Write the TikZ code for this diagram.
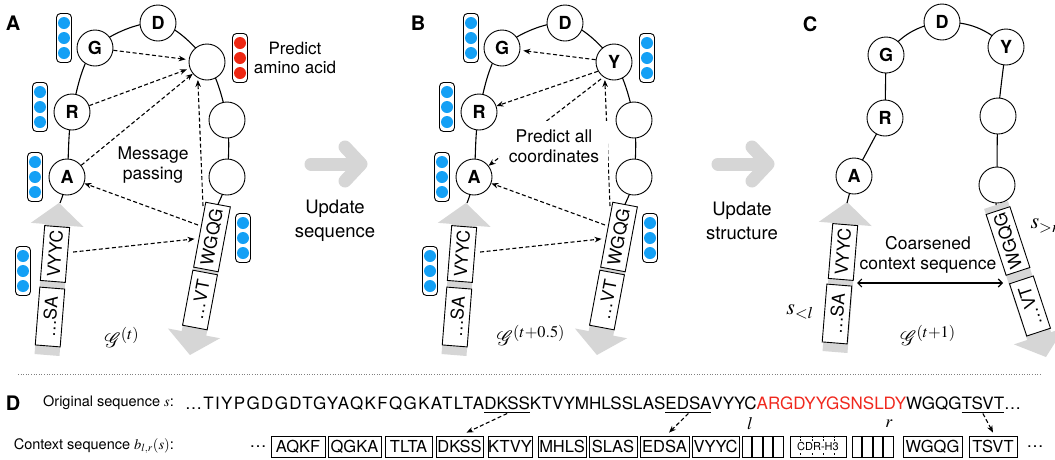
\documentclass[tikz,border=0pt]{standalone}
\usepackage{mathptmx}
\usepackage{mathrsfs}
\usepackage{fontspec}
\setmainfont{TeX Gyre Heros}
\usetikzlibrary{arrows.meta}
\newcommand\fsz[2]{\fontsize{#1}{#2}\selectfont}
\definecolor{vblue}{RGB}{20,160,245}
\definecolor{vred}{RGB}{238,40,20}
\definecolor{barg}{RGB}{214,214,214}
\definecolor{seqred}{RGB}{240,40,30}
\tikzset{
  res/.style={circle, draw, line width=0.9pt, fill=white, minimum size=36pt, inner sep=0pt, font=\fsz{18}{20}\bfseries},
  sbox/.style={draw, fill=white, line width=0.9pt, minimum height=25pt, inner sep=1pt, font=\fsz{17.5}{20}},
  chainline/.style={line width=1.1pt},
  msg/.style={line width=1.1pt, dash pattern=on 4pt off 2.5pt, -{Stealth[length=7pt,width=5.5pt]}},
  lbl/.style={font=\fsz{17.5}{20}, align=center},
  updtxt/.style={font=\fsz{18.5}{24}, align=center},
  plabel/.style={font=\fsz{20}{24}\bfseries},
  mlbl/.style={font=\fsz{22}{26}},
  upd/.style={draw=barg, line width=13pt, line cap=round, line join=round},
  cbox/.style={draw, line width=0.8pt, minimum height=21pt, inner sep=0pt, font=\fsz{16.5}{20}},
  smallbox/.style={draw, line width=0.8pt, minimum height=21pt, minimum width=9.6pt, inner sep=0pt},
  seqt/.style={inner sep=0pt, outer sep=0pt, font=\fsz{17}{20}},
  seqwide/.style={inner sep=0pt, outer sep=0pt, font=\fsz{17}{20}\addfontfeature{LetterSpace=8}},
  dlbl/.style={font=\fsz{14.5}{18}, inner sep=0pt},
  dbl/.style={line width=1.1pt, {Straight Barb[length=4pt,width=8pt]}-{Straight Barb[length=4pt,width=8pt]}},
  pics/vec/.style={code={
    \draw[line width=0.9pt, fill=white, rounded corners=4pt] (-7.5,-24.5) rectangle (7.5,24.5);
    \foreach \k in {-15,0,15} {\fill[#1] (0,\k) circle (6pt);}
  }}
}
\newcommand\grayarrow[4]{\fill[barg, shift={(#1,#2)}, rotate=#3] (0,-12.5) -- (#4-22,-12.5) -- (#4-22,-26.5) -- (#4,0) -- (#4-22,26.5) -- (#4-22,12.5) -- (0,12.5) -- cycle;}
% #1 prefix, #2 x offset, #3 top-right letter, #4 top-right vector colour
\newcommand\panelAB[4]{%
\begin{scope}[xshift=#2pt]
  \grayarrow{47}{355}{85.5}{152.5}
  \grayarrow{218}{205}{-100.6}{152.6}
  \draw[chainline] plot[smooth, tension=0.55] coordinates {(60,203) (67,177) (72,112) (95,48) (158,23) (207,62) (227,120) (227,177) (218,204)};
  \node[sbox, rotate=85.5, minimum width=55pt] (#1VY) at (55,254) {VYYC};
  \node[sbox, rotate=85.5, minimum width=58pt] (#1SA) at (50,317) {…SA};
  \node[sbox, rotate=79.4, minimum width=66pt] (#1WG) at (212,237) {WGQG};
  \node[sbox, rotate=79.4, minimum width=56pt] (#1VT) at (200,300) {…VT};
  \node[res] (#1A) at (67,177) {A};
  \node[res] (#1R) at (72,112) {R};
  \node[res] (#1G) at (95,48) {G};
  \node[res] (#1D) at (158,23) {D};
  \node[res] (#1P) at (207,62) {#3};
  \node[res] (#1c) at (227,120) {};
  \node[res] (#1e) at (227,177) {};
  \pic at (64,38) {vec=vblue};
  \pic at (40,107) {vec=vblue};
  \pic at (35,177) {vec=vblue};
  \pic at (240,58) {vec=#4};
  \pic at (23,271) {vec=vblue};
  \pic at (243,238) {vec=vblue};
  \coordinate (#1wT) at (203,206);
  \coordinate (#1wA) at (198,225);
  \draw[msg, shorten >=2pt] (#1wT) -- (#1P.240);
  \draw[msg] (#1wA) -- (#1A);
  \draw[msg, shorten <=5pt, shorten >=4pt] (#1VY) -- (#1WG);
\end{scope}}
\begin{document}
\begin{tikzpicture}[x=1pt, y=-1pt]
\useasboundingbox (0,0) rectangle (1055,459);
\fill[white] (0,0) rectangle (1055,459);
\clip (0,0) rectangle (1055,459);

% ---------- Panel A ----------
\panelAB{a}{0}{}{vred}
\draw[msg, shorten >=3pt] (aG) -- (aP);
\draw[msg, shorten >=3pt] (aR) -- (aP);
\draw[msg] (aA) -- (aP);
\node[lbl] (amsg) at (153,165) {Message\\passing};
\node[lbl, font=\fsz{17}{19}] (apred) at (295,58) {Predict\\amino acid};
\node[plabel] (labA) at (13,23) {A};
\node[mlbl] (agl) at (122,337) {$\mathscr{G}^{(t)}$};

% ---------- arrow A -> B ----------
\draw[upd] (311,164) -- (360,164);
\draw[upd] (345,147) -- (361,164) -- (345,181);
\node[updtxt] (u1) at (335,221) {Update\\sequence};

% ---------- Panel B ----------
\panelAB{b}{407}{Y}{vblue}
\draw[msg, shorten >=3pt] (bP) -- (bG);
\draw[msg] (bP.210) -- (bR);
\draw[msg, shorten <=3pt] (bP.235) -- (bA);
\node[lbl, fill=white, inner xsep=9pt, inner ysep=8pt] (bpred) at (554,146) {Predict all\\coordinates};
\node[plabel] (labB) at (418,23) {B};
\node[mlbl] (bgl) at (531,335) {$\mathscr{G}^{(t+0.5)}$};

% ---------- arrow B -> C ----------
\draw[upd] (718,164) -- (767,164);
\draw[upd] (752,147) -- (768,164) -- (752,181);
\node[updtxt] (u2) at (742,221) {Update\\structure};

% ---------- Panel C ----------
\grayarrow{835}{352}{85.4}{150.5}
\grayarrow{996}{205}{-71.8}{160}
\draw[chainline] (847,203) -- (854,176) -- (885,118) -- (886,55);
\draw[chainline] (886,55) to[bend left=22] (942,22) to[bend left=22] (1006,47);
\draw[chainline] plot[smooth, tension=0.5] coordinates {(1006,47) (998,116) (997,185) (996,205)};
\node[sbox, rotate=85.4, minimum width=55pt] (cVY) at (843,252) {VYYC};
\node[sbox, rotate=85.4, minimum width=58pt] (cSA) at (837,314) {…SA};
\node[sbox, rotate=108.2, minimum width=64pt] (cWG) at (1008,241) {WGQG};
\node[sbox, rotate=108.2, minimum width=55pt] (cVT) at (1030,306) {…VT};
\node[res] (cA) at (854,176) {A};
\node[res] (cR) at (885,118) {R};
\node[res] (cG) at (886,55) {G};
\node[res] (cD) at (942,22) {D};
\node[res] (cY) at (1006,47) {Y};
\node[res] (cc) at (998,116) {};
\node[res] (ce) at (997,185) {};
\coordinate (cl) at (857,283);
\coordinate (cr) at (1003,283);
\draw[dbl] (cl) -- (cr);
\node[lbl] (ccoarse) at (928,255) {Coarsened\\context sequence};
\node[mlbl] (csl) at (800,312) {$s_{<l}$};
\node[mlbl, anchor=west] (csr) at (1027,226) {$s_{>r}$};
\node[plabel] (labC) at (810,24) {C};
\node[mlbl] (cgl) at (928,335) {$\mathscr{G}^{(t+1)}$};

% ---------- Panel D ----------
\draw[dotted, line width=0.6pt, gray] (18,374) -- (1040,374);
\node[plabel] (labD) at (13,403) {D};
\node[dlbl, anchor=east] (lorig) at (174,403) {Original sequence $s$:};
\node[dlbl, anchor=east] (lctx) at (174,446) {Context sequence $b_{l,r}(s)$:};

\node[seqwide, anchor=base west] (q1) at (185,409.5) {…TIYPGDGDTGYAQKFQGKATLTA};
\node[seqt, anchor=base west] (q2) at (q1.base east) {DKSS};
\node[seqt, anchor=base west] (q3) at (q2.base east) {KTVYMHLSSLAS};
\node[seqt, anchor=base west] (q4) at (q3.base east) {EDSA};
\node[seqt, anchor=base west] (q5) at (q4.base east) {VYYC};
\node[seqt, anchor=base west, text=seqred] (q6) at (q5.base east) {ARGDYYGSNSLDY};
\node[seqt, anchor=base west] (q7) at (q6.base east) {WGQG};
\node[seqt, anchor=base west] (q8) at (q7.base east) {TSVT};
\node[seqt, anchor=base west] (q9) at (q8.base east) {…};
\foreach \q in {q2,q4,q8} {\draw[line width=0.8pt] ([yshift=-2.5pt]\q.base west) -- ([yshift=-2.5pt]\q.base east);}

\node[seqt] (e1) at (258,446.5) {…};
\node[cbox, minimum width=54pt] (bAQKF) at (298,446.5) {AQKF};
\node[cbox, minimum width=53pt] (bQGKA) at (354.5,446.5) {QGKA};
\node[cbox, minimum width=47pt] (bTLTA) at (408.5,446.5) {TLTA};
\node[cbox, minimum width=47pt] (bDKSS) at (459.5,446.5) {DKSS};
\node[cbox, minimum width=44pt] (bKTVY) at (510,446.5) {KTVY};
\node[cbox, minimum width=48pt] (bMHLS) at (562,446.5) {MHLS};
\node[cbox, minimum width=48pt] (bSLAS) at (613,446.5) {SLAS};
\node[cbox, minimum width=49pt] (bEDSA) at (664.5,446.5) {EDSA};
\node[cbox, minimum width=47pt] (bVYYC) at (715.5,446.5) {VYYC};
\foreach \i in {0,1,2,3} {
  \node[smallbox] (sl\i) at (746.8+10.6*\i,446.5) {};
  \node[smallbox] (sr\i) at (856.8+10.6*\i,446.5) {};
}
\node[draw, line width=0.8pt, minimum width=56pt, minimum height=21pt, inner sep=0pt] (bcdr) at (818,446.5) {};
\foreach \k in {1,2,3,4} {\draw[line width=0.7pt, dash pattern=on 2pt off 1.5pt] ([xshift=11.2*\k pt]bcdr.north west) -- ([xshift=11.2*\k pt]bcdr.south west);}
\node[fill=white, inner xsep=1pt, inner ysep=1.5pt, font=\fsz{11}{13}] (tcdr) at (818,446.5) {CDR-H3};
\node[cbox, minimum width=59pt] (bWGQG) at (932.5,446.5) {WGQG};
\node[cbox, minimum width=48pt] (bTSVT) at (993,446.5) {TSVT};
\node[seqt] (e2) at (1035,446.5) {…};
\node[font=\fsz{17.5}{20}] (ll) at (750,424) {$l$};
\node[font=\fsz{17.5}{20}] (rr) at (889,424) {$r$};

\draw[msg] ([yshift=-4pt]q2.base) -- ([xshift=7pt,yshift=3pt]bDKSS.north);
\draw[msg] ([yshift=-4pt]q4.base) -- ([xshift=4.5pt,yshift=3pt]bEDSA.north);
\draw[msg] ([yshift=-4pt]q8.base) -- ([yshift=3pt]bTSVT.north);
\end{tikzpicture}
\end{document}
